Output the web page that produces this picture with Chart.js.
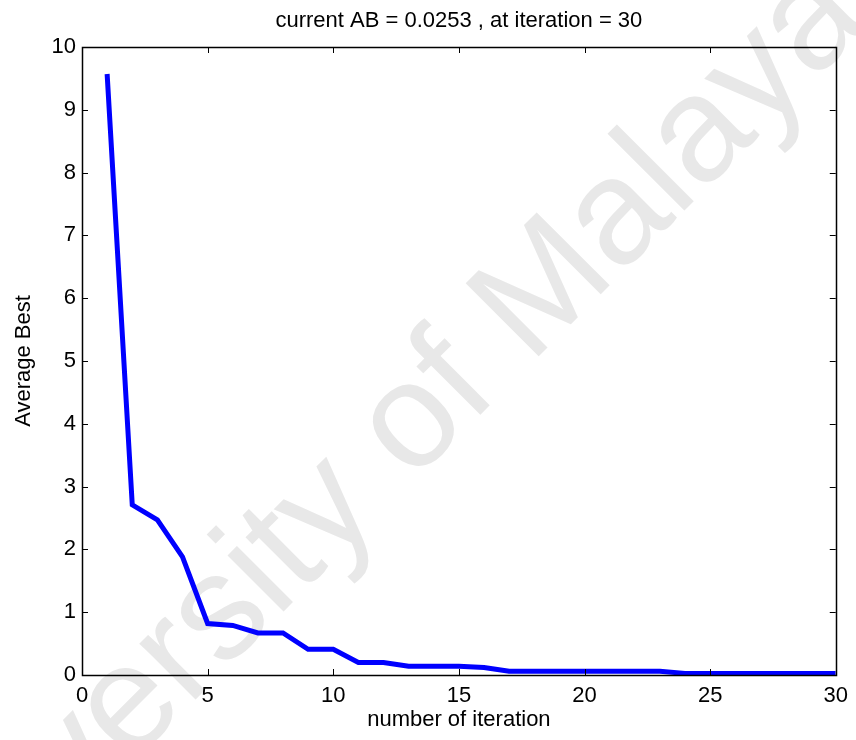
<!DOCTYPE html>
<html>
<head>
<meta charset="utf-8">
<script src="https://cdn.jsdelivr.net/npm/chart.js@4.4.1/dist/chart.umd.min.js"></script>
<style>
  html, body { margin: 0; padding: 0; background: #ffffff; }
  #wrap { width: 856px; height: 740px; position: relative; }
</style>
</head>
<body>
<div id="wrap"><canvas id="c" width="856" height="740"></canvas></div>
<script>
// ---- data ----
const iterations = [1,2,3,4,5,6,7,8,9,10,11,12,13,14,15,16,17,18,19,20,21,22,23,24,25,26,27,28,29,30];
const averageBest = [9.57, 2.71, 2.47, 1.88, 0.82, 0.79, 0.67, 0.67, 0.41, 0.41,
                     0.20, 0.20, 0.14, 0.14, 0.14, 0.12, 0.06, 0.06, 0.06, 0.06,
                     0.06, 0.06, 0.06, 0.0253, 0.0253, 0.0253, 0.0253, 0.0253, 0.0253, 0.0253];
const xTicks = [0, 5, 10, 15, 20, 25, 30];
const yTicks = [0, 1, 2, 3, 4, 5, 6, 7, 8, 9, 10];
const titleText = 'current AB = 0.0253 , at iteration = 30';
const xLabel = 'number of iteration';
const yLabel = 'Average Best';
const watermarkText = 'University of Malaya';

const FONT = "'Liberation Sans', Arial, Helvetica, sans-serif";

const watermark = {
  id: 'watermark',
  beforeDraw(chart) {
    const ctx = chart.ctx;
    ctx.save();
    ctx.font = '150px ' + FONT;
    ctx.fillStyle = 'rgb(232,232,232)';
    ctx.textBaseline = 'alphabetic';
    ctx.textAlign = 'left';
    const pre = ctx.measureText('University of ').width;
    ctx.translate(530, 365);
    ctx.rotate(-Math.PI / 4);
    ctx.fillText(watermarkText, -pre, 0);
    ctx.restore();
  }
};

const frameTicks = {
  id: 'frameTicks',
  afterDatasetsDraw(chart) {
    const ctx = chart.ctx;
    const a = chart.chartArea;
    const xs = chart.scales.x, ys = chart.scales.y;
    const L = 6;
    ctx.save();
    ctx.strokeStyle = '#000';
    ctx.lineWidth = 1;
    ctx.beginPath();
    xTicks.forEach(v => {
      const px = Math.round(xs.getPixelForValue(v)) + 0.5;
      ctx.moveTo(px, a.bottom); ctx.lineTo(px, a.bottom - L);
      ctx.moveTo(px, a.top); ctx.lineTo(px, a.top + L);
    });
    yTicks.forEach(v => {
      const py = Math.round(ys.getPixelForValue(v)) + 0.5;
      ctx.moveTo(a.left, py); ctx.lineTo(a.left + L, py);
      ctx.moveTo(a.right, py); ctx.lineTo(a.right - L, py);
    });
    ctx.stroke();
    ctx.lineWidth = 1.5;
    ctx.strokeRect(Math.round(a.left) + 0.5, Math.round(a.top) + 0.5,
                   Math.round(a.right - a.left), Math.round(a.bottom - a.top));
    ctx.restore();
  }
};

new Chart(document.getElementById('c'), {
  type: 'line',
  data: {
    datasets: [{
      data: iterations.map((x, i) => ({ x: x, y: averageBest[i] })),
      borderColor: '#0000ff',
      borderWidth: 5,
      pointRadius: 0,
      tension: 0,
      fill: false
    }]
  },
  options: {
    responsive: false,
    animation: false,
    events: [],
    layout: { padding: { left: 0, right: 18, top: 0, bottom: 0 } },
    plugins: { legend: { display: false }, tooltip: { enabled: false }, title: { display: false } },
    scales: {
      x: {
        type: 'linear', position: 'bottom', min: 0, max: 30,
        afterBuildTicks: s => { s.ticks = xTicks.map(v => ({ value: v })); },
        afterFit: s => { s.height = 65; },
        grid: { display: false, drawTicks: false },
        border: { display: false },
        ticks: { color: '#000', font: { family: FONT, size: 22 }, padding: 8, maxRotation: 0, autoSkip: false },
        title: { display: true, text: xLabel, color: '#000', font: { family: FONT, size: 22 }, padding: { top: 0, bottom: 7 } }
      },
      x2: {
        type: 'linear', position: 'top', min: 0, max: 30,
        afterFit: s => { s.height = 47; },
        grid: { display: false, drawTicks: false },
        border: { display: false },
        ticks: { display: false },
        title: { display: true, text: titleText, color: '#000', font: { family: FONT, size: 22 }, padding: { top: 8, bottom: 0 } }
      },
      y: {
        type: 'linear', position: 'left', min: 0, max: 10,
        afterBuildTicks: s => { s.ticks = yTicks.map(v => ({ value: v })); },
        afterFit: s => { s.width = 82; },
        grid: { display: false, drawTicks: false },
        border: { display: false },
        ticks: { color: '#000', font: { family: FONT, size: 22 }, padding: 6 },
        title: { display: true, text: yLabel, color: '#000', font: { family: FONT, size: 22 }, padding: { top: 11, bottom: 0 } }
      }
    }
  },
  plugins: [watermark, frameTicks]
});
</script>
</body>
</html>
